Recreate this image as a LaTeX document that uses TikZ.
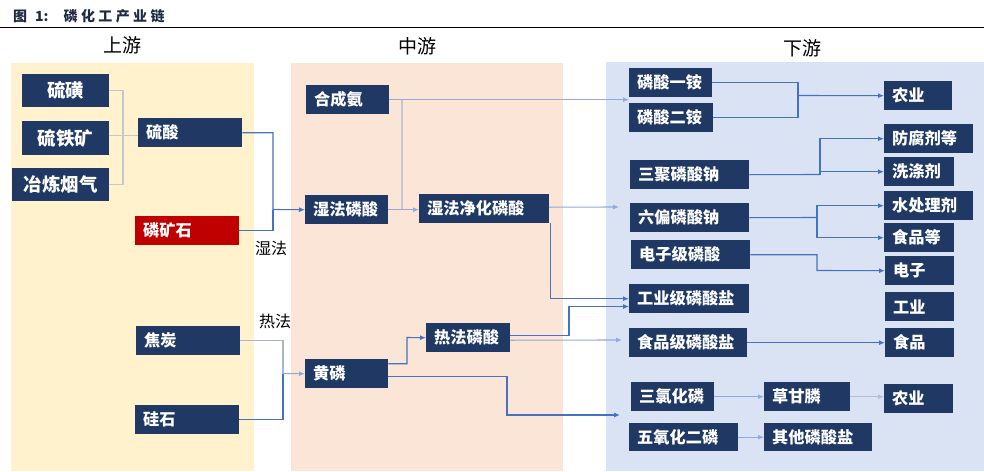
\documentclass[tikz,border=0pt]{standalone}
\usepackage{fontspec}
\setmainfont{Noto Sans CJK SC}
\usetikzlibrary{arrows.meta,calc}
\definecolor{navy}{HTML}{1F3864}
\definecolor{redbox}{HTML}{C00000}
\definecolor{bgup}{HTML}{FFF2CC}
\definecolor{bgmid}{HTML}{FBE5D6}
\definecolor{bgdown}{HTML}{DAE3F3}
\definecolor{lblue}{HTML}{4472C4}
\definecolor{llblue}{HTML}{8FAADC}
\definecolor{lgray}{HTML}{C3C7CF}
\definecolor{titlec}{HTML}{1F2A44}
\newcommand\tsp{\hspace{3.4pt}}
\begin{document}
\begin{tikzpicture}[x=1pt,y=-1pt,
  nb/.style={fill=navy,text=white,font=\bfseries\fontsize{16.2}{18}\selectfont,anchor=north west,inner xsep=8pt,inner ysep=0pt,align=left,minimum height=29pt,text width=#1},
  nbc/.style={nb=#1,align=center,font=\bfseries\fontsize{18.5}{20}\selectfont,minimum height=33pt},
  hdr/.style={font=\fontsize{19}{21}\selectfont,text=black},
  lbl/.style={font=\fontsize{16}{18}\selectfont,text=black},
  arr/.style={-{Latex[length=6pt,width=5pt]}},
  bl/.style={draw=lblue,line width=1.1pt},
  lb/.style={draw=llblue,line width=1.1pt},
  gl/.style={draw=lgray,line width=1.1pt}]
\useasboundingbox (0,0) rectangle (984,471);
% backgrounds
\fill[bgup] (11,63) rectangle (254,471);
\fill[bgmid] (291,63) rectangle (563,471);
\fill[bgdown] (606,62) rectangle (984,471);
% title
\node[anchor=west,inner sep=0pt,text=titlec,font=\bfseries\fontsize{14}{16}\selectfont] (title) at (13,16.5) {图\hspace{8pt}1:\hspace{15pt}磷\tsp{}化\tsp{}工\tsp{}产\tsp{}业\tsp{}链};
\coordinate (rl) at (0,27);
\coordinate (rr) at (984,27);
\draw[line width=1pt,black] (rl) -- (rr);
% headers
\node[hdr] (hup) at (122,45) {上游};
\node[hdr] (hmid) at (417,46) {中游};
\node[hdr] (hdown) at (802,48) {下游};
% upstream nodes
\node[nbc=71pt] (liuhuang) at (22,74) {硫磺};
\node[nbc=71pt,minimum height=34pt] (liutiekuang) at (22,121) {硫铁矿};
\node[nbc=81pt] (yelian) at (12,168) {冶炼烟气};
\node[nb=88pt] (liusuan) at (138,118) {硫酸};
\node[nb=88pt,fill=redbox] (linkuang) at (135,216) {磷矿石};
\node[nb=88pt] (jiaotan) at (136,326) {焦炭};
\node[nb=88pt] (guishi) at (135,405) {硅石};
% midstream nodes
\node[nb=67pt] (hechengan) at (306,85) {合成氨};
\node[nb=67pt] (shifa) at (305,195) {湿法磷酸};
\node[nb=114pt] (jinghua) at (419,194) {湿法净化磷酸};
\node[nb=67pt] (huanglin) at (305,359) {黄磷};
\node[nb=68pt] (refa) at (426,323) {热法磷酸};
% downstream nodes
\node[nb=67pt] (yian) at (629,68) {磷酸一铵};
\node[nb=68pt] (eran) at (629,103) {磷酸二铵};
\node[nb=52pt] (nongye1) at (884,81) {农业};
\node[nb=73pt] (fangfu) at (884,124) {防腐剂等};
\node[nb=54pt] (xidi) at (884,157) {洗涤剂};
\node[nb=103pt] (sanju) at (630,160) {三聚磷酸钠};
\node[nb=103pt] (liupian) at (630,203) {六偏磷酸钠};
\node[nb=73pt] (shuichuli) at (884,191) {水处理剂};
\node[nb=54pt] (shipindeng) at (884,223) {食品等};
\node[nb=103pt] (dianzijilin) at (631,240) {电子级磷酸};
\node[nb=53pt] (dianzi) at (885,256) {电子};
\node[nb=53pt] (gongye) at (885,292) {工业};
\node[nb=104pt] (gongyeji) at (629,284) {工业级磷酸盐};
\node[nb=102pt] (shipinji) at (629,328) {食品级磷酸盐};
\node[nb=53pt] (shipin) at (885,328) {食品};
\node[nb=67pt] (sanlv) at (631,382) {三氯化磷};
\node[nb=70pt] (caoganlin) at (764,382) {草甘膦};
\node[nb=53pt] (nongye2) at (884,384) {农业};
\node[nb=93pt,minimum height=28pt] (wuyang) at (629,423) {五氧化二磷};
\node[nb=92pt,minimum height=28pt] (qita) at (764,423) {其他磷酸盐};
% labels
\node[lbl] (shifalbl) at (271,248) {湿法};
\node[lbl] (refalbl) at (275,321) {热法};
% upstream connectors
\coordinate (ju1) at (123,138);
\draw[gl] (liuhuang.east) -| (ju1);
\draw[gl] (yelian.east) -| (ju1);
\draw[gl] ($(liutiekuang.east)+(0,-3)$) -- ($(liutiekuang.east -| liusuan.west)+(0,-3)$);
\coordinate (j1) at (273,209.5);
\draw[bl,arr] (liusuan.east) -| (j1) -- (shifa.west);
\draw[bl] (linkuang.east) -| (j1);
\coordinate (j2) at (283,373.5);
\draw[gl,draw=lgray!80!lblue] (jiaotan.east) -| (j2);
\draw[bl] (guishi.east) -| (j2);
\draw[lb,arr] (j2) -- (huanglin.west);
% midstream connectors
\coordinate (t1) at (629,99.5);
\coordinate (j3) at (402,209.5);
\draw[gl] (j3 |- hechengan.east) -- (j3);
\draw[lb,arr] (hechengan.east) -- (t1 |- hechengan.east);
\draw[lb,arr] (shifa.east) -- (shifa.east -| jinghua.west);
\coordinate (t2) at (619,207);
\draw[lb,arr] ($(jinghua.east)+(0,-1.5)$) -- (t2);
\draw[bl,arr] ($(jinghua.south east)+(1,0)$) |- (gongyeji.west);
\coordinate (k1) at (569,306.5);
\draw[bl,arr] ($(refa.east)+(0,-2.5)$) -| (k1) -- (k1 -| gongyeji.west);
\coordinate (t3) at (622,340);
\draw[lb,arr] ($(refa.east)+(0,2.5)$) -- (t3);
\coordinate (k2) at (407,337.5);
\draw[bl,arr] ($(huanglin.east)+(0,-10)$) -| (k2) -- (refa.west);
\coordinate (k3) at (507,415);
\coordinate (t4) at (620,415);
\draw[bl,arr] ($(huanglin.east)+(0,3)$) -| (k3) -- (t4);
% downstream connectors
\coordinate (m1) at (798,95.5);
\draw[bl] (yian.east) -| (m1);
\draw[bl] (eran.east) -| (m1);
\draw[bl,arr] (m1) -- (nongye1.west);
\coordinate (m2) at (820,174.5);
\draw[bl] (sanju.east) -- (m2);
\draw[bl,arr] (m2) |- (fangfu.west);
\draw[bl,arr] (m2 |- xidi.west) -- (xidi.west);
\coordinate (m3) at (817,217.5);
\draw[bl] (liupian.east) -- (m3);
\draw[bl,arr] (m3) |- (shuichuli.west);
\draw[bl,arr] (m3) |- (shipindeng.west);
\coordinate (m4) at (817,270.5);
\draw[bl,arr] (dianzijilin.east) -| (m4) -- (dianzi.west);
\draw[bl,arr] (shipinji.east) -- (shipin.west);
\draw[lb,arr] (sanlv.east) -- (caoganlin.west);
\draw[gl,draw=lgray!70!llblue,arr] (caoganlin.east) -- (caoganlin.east -| nongye2.west);
\draw[lb,arr] (wuyang.east) -- (qita.west);
\end{tikzpicture}
\end{document}
